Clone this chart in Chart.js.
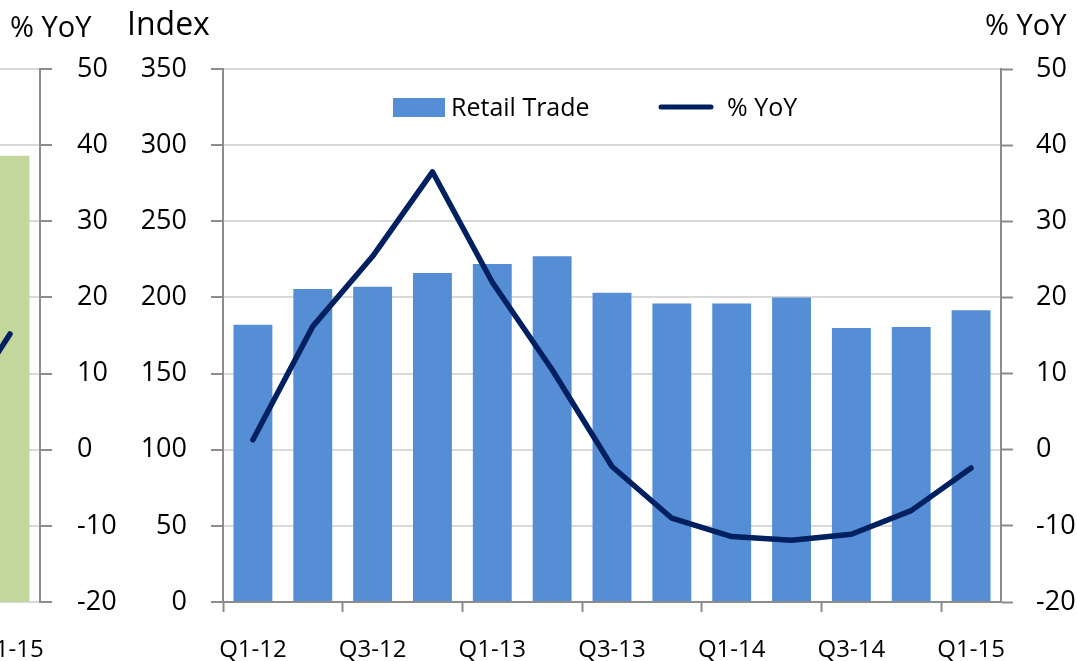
<!DOCTYPE html>
<html lang="en">
<head>
<meta charset="UTF-8">
<title>Retail Trade Index</title>
<script src="https://cdn.jsdelivr.net/npm/chart.js"></script>
<style>
    html, body { margin: 0; padding: 0; background: #fff; }
    body { width: 1077px; height: 661px; position: relative; overflow: hidden; }
    #prevChart { position: absolute; left: -320px; top: 0; }
    #mainChart { position: absolute; left: 0; top: 0; }
</style>
</head>
<body>
<canvas id="prevChart" width="440" height="661"></canvas>
<canvas id="mainChart" width="1077" height="661"></canvas>
<script>
// main chart data
const quarters = ['Q1-12', 'Q2-12', 'Q3-12', 'Q4-12', 'Q1-13', 'Q2-13', 'Q3-13',
                  'Q4-13', 'Q1-14', 'Q2-14', 'Q3-14', 'Q4-14', 'Q1-15'];
const retailTrade = [182, 205.5, 207, 216, 222, 227, 203, 196, 196, 200, 180, 180.5, 191.5];
const retailYoY = [1.3, 16.2, 25.4, 36.5, 22, 10.5, -2.2, -9, -11.4, -11.9, -11.1, -8, -2.4];

// edge of the neighbouring chart (only its last quarter is visible)
const prevQuarters = ['Q4-13', 'Q1-14', 'Q2-14', 'Q3-14', 'Q4-14', 'Q1-15'];
const prevBars = [null, null, null, null, null, 293];
const prevYoY = [null, null, null, null, 3, 15.2];

const indexTicks = { min: 0, max: 350, step: 50 };
const yoyTicks = { min: -20, max: 50, step: 10 };

const FONT = '"Open Sans", "Noto Sans", sans-serif';
const AXIS_GREY = '#8c8c8c';
const GRID_GREY = '#d9d9d9';
const BAR_BLUE = '#558ed5';
const LINE_NAVY = '#002060';
const BAR_GREEN = '#c3d69b';

Chart.defaults.font.family = FONT;
Chart.defaults.color = '#000';
Chart.defaults.animation = false;

// horizontal titles above the value axes
const axisTitles = {
    id: 'axisTitles',
    afterDraw(chart, args, opts) {
        const ctx = chart.ctx;
        ctx.save();
        ctx.fillStyle = '#000';
        ctx.textBaseline = 'alphabetic';
        ctx.textAlign = 'left';
        opts.items.forEach(t => {
            ctx.font = t.size + 'px ' + FONT;
            ctx.fillText(t.text, t.x, t.y);
        });
        ctx.restore();
    }
};

// legend floating inside the plot area
const innerLegend = {
    id: 'innerLegend',
    afterDatasetsDraw(chart, args, opts) {
        const ctx = chart.ctx;
        const bar = chart.data.datasets.find(d => d.type === 'bar');
        const line = chart.data.datasets.find(d => d.type === 'line');
        ctx.save();
        ctx.font = opts.size + 'px ' + FONT;
        ctx.textBaseline = 'middle';
        ctx.textAlign = 'left';
        ctx.fillStyle = bar.backgroundColor;
        ctx.fillRect(393, 98, 52, 19);
        ctx.fillStyle = '#000';
        ctx.fillText(bar.label, 451, 109);
        ctx.strokeStyle = line.borderColor;
        ctx.lineWidth = 5;
        ctx.lineCap = 'round';
        ctx.beginPath();
        ctx.moveTo(661, 107);
        ctx.lineTo(711, 107);
        ctx.stroke();
        ctx.fillText(line.label, 727, 109);
        ctx.restore();
    }
};

function showHalfYears(value) {
    const label = this.getLabelForValue(value);
    return (label.startsWith('Q1') || label.startsWith('Q3')) ? label : '';
}

// Main chart
new Chart(document.getElementById('mainChart'), {
    data: {
        labels: quarters,
        datasets: [
            {
                type: 'line',
                label: '% YoY',
                data: retailYoY,
                yAxisID: 'y1',
                borderColor: LINE_NAVY,
                backgroundColor: LINE_NAVY,
                borderWidth: 5.5,
                borderCapStyle: 'round',
                borderJoinStyle: 'round',
                pointRadius: 0,
                tension: 0,
                order: 0
            },
            {
                type: 'bar',
                label: 'Retail Trade',
                data: retailTrade,
                yAxisID: 'y',
                backgroundColor: BAR_BLUE,
                borderWidth: 0,
                categoryPercentage: 1,
                barPercentage: 0.65,
                order: 1
            }
        ]
    },
    options: {
        responsive: false,
        layout: { padding: { top: 69, left: 0, right: 0, bottom: 0 } },
        scales: {
            x: {
                offset: true,
                afterFit: s => { s.height = 59; },
                grid: {
                    offset: true,
                    drawOnChartArea: false,
                    tickLength: 10,
                    tickWidth: 2,
                    tickColor: c => (c.index !== undefined && c.index % 2 === 0) ? AXIS_GREY : 'rgba(0,0,0,0)'
                },
                border: { color: AXIS_GREY, width: 2 },
                ticks: {
                    autoSkip: false,
                    maxRotation: 0,
                    padding: 24,
                    font: { size: 24 },
                    callback: showHalfYears
                }
            },
            y: {
                position: 'left',
                min: indexTicks.min,
                max: indexTicks.max,
                afterFit: s => { s.width = 223; },
                grid: {
                    color: GRID_GREY,
                    lineWidth: 2,
                    tickColor: AXIS_GREY,
                    tickLength: 12,
                    tickWidth: 2
                },
                border: { color: AXIS_GREY, width: 2 },
                ticks: { stepSize: indexTicks.step, padding: 24, font: { size: 27 } }
            },
            y1: {
                position: 'right',
                min: yoyTicks.min,
                max: yoyTicks.max,
                afterFit: s => { s.width = 76; },
                grid: {
                    drawOnChartArea: false,
                    tickColor: AXIS_GREY,
                    tickLength: 12,
                    tickWidth: 2
                },
                border: { color: AXIS_GREY, width: 2 },
                ticks: { stepSize: yoyTicks.step, padding: 23, font: { size: 27 } }
            }
        },
        plugins: {
            legend: { display: false },
            tooltip: { enabled: false },
            axisTitles: {
                items: [
                    { text: 'Index', x: 127, y: 35, size: 32 },
                    { text: '% YoY', x: 985, y: 35, size: 29 }
                ]
            },
            innerLegend: { size: 25 }
        }
    },
    plugins: [axisTitles, innerLegend]
});

// Neighbouring chart, mostly off the left edge
new Chart(document.getElementById('prevChart'), {
    data: {
        labels: prevQuarters,
        datasets: [
            {
                type: 'line',
                label: '% YoY',
                data: prevYoY,
                yAxisID: 'y1',
                borderColor: LINE_NAVY,
                borderWidth: 5.5,
                borderCapStyle: 'round',
                pointRadius: 0,
                order: 0
            },
            {
                type: 'bar',
                label: 'Index',
                data: prevBars,
                yAxisID: 'y',
                backgroundColor: BAR_GREEN,
                borderWidth: 0,
                categoryPercentage: 1,
                barPercentage: 0.65,
                order: 1
            }
        ]
    },
    options: {
        responsive: false,
        layout: { padding: { top: 69, left: 0, right: 0, bottom: 0 } },
        scales: {
            x: {
                offset: true,
                afterFit: s => { s.height = 59; },
                grid: { display: false },
                border: { display: false },
                ticks: {
                    autoSkip: false,
                    maxRotation: 0,
                    padding: 26,
                    font: { size: 24 },
                    callback: showHalfYears
                }
            },
            y: {
                display: false,
                min: indexTicks.min,
                max: indexTicks.max
            },
            y1: {
                position: 'right',
                min: yoyTicks.min,
                max: yoyTicks.max,
                afterFit: s => { s.width = 80; },
                grid: {
                    color: GRID_GREY,
                    lineWidth: 2,
                    tickColor: AXIS_GREY,
                    tickLength: 12,
                    tickWidth: 2
                },
                border: { color: AXIS_GREY, width: 2 },
                ticks: { stepSize: yoyTicks.step, padding: 25, font: { size: 27 } }
            }
        },
        plugins: {
            legend: { display: false },
            tooltip: { enabled: false },
            axisTitles: {
                items: [{ text: '% YoY', x: 330, y: 37, size: 29 }]
            }
        }
    },
    plugins: [axisTitles]
});
</script>
</body>
</html>
